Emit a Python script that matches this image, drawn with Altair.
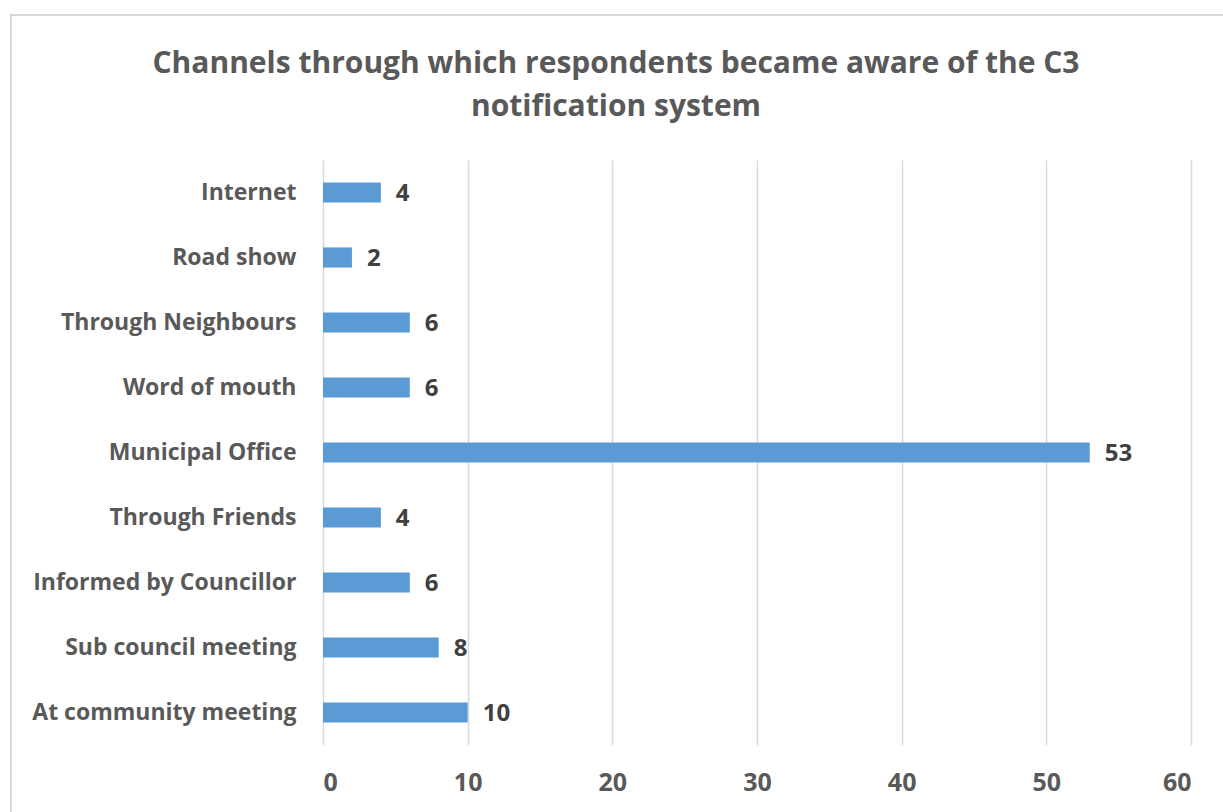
import altair as alt
import pandas as pd

# Survey responses: how respondents heard about the C3 notification system
channels = [
    "Internet",
    "Road show",
    "Through Neighbours",
    "Word of mouth",
    "Municipal Office",
    "Through Friends",
    "Informed by Councillor",
    "Sub council meeting",
    "At community meeting",
]
counts = [4, 2, 6, 6, 53, 4, 6, 8, 10]
x_ticks = [0, 10, 20, 30, 40, 50, 60]
title_lines = [
    "Channels through which respondents became aware of the C3",
    "notification system",
]

df = pd.DataFrame({"channel": channels, "count": counts})

FONT = "Open Sans"
BAR = "#5B9BD5"
LABEL = "#595959"
VALUE = "#404040"
GRID = "#D9D9D9"

W, H = 868, 585

y_enc = alt.Y(
    "channel:N",
    sort=channels,
    title=None,
    scale=alt.Scale(paddingInner=0.69, paddingOuter=0.345),
    axis=alt.Axis(
        domain=False,
        ticks=False,
        labelPadding=27,
        labelFont=FONT,
        labelFontWeight="bold",
        labelFontSize=23,
        labelColor=LABEL,
        labelLimit=400,
    ),
)

x_enc = alt.X(
    "count:Q",
    title=None,
    scale=alt.Scale(domain=[0, 60], nice=False),
    axis=alt.Axis(
        values=x_ticks,
        domain=False,
        ticks=False,
        grid=True,
        gridColor=GRID,
        gridWidth=1.5,
        labelPadding=25,
        labelFont=FONT,
        labelFontWeight="bold",
        labelFontSize=25,
        labelColor=LABEL,
    ),
)

bars = alt.Chart(df).mark_bar(color=BAR).encode(x=x_enc, y=y_enc)

values = alt.Chart(df).mark_text(
    align="left",
    baseline="middle",
    dx=15,
    dy=1,
    font=FONT,
    fontWeight="bold",
    fontSize=24,
    color=VALUE,
).encode(x="count:Q", y=alt.Y("channel:N", sort=channels), text="count:Q")

# Light border around the whole chart area
frame = alt.Chart(df).mark_rect(
    fill=None, stroke=GRID, strokeWidth=2, clip=False
).encode(
    x=alt.value(-312),
    x2=alt.value(920),
    y=alt.value(-145),
    y2=alt.value(680),
)

# Two-line chart heading, centred over the bordered area
heading = alt.Chart(df.head(1)).mark_text(
    align="center",
    baseline="alphabetic",
    font=FONT,
    fontSize=30,
    fontWeight="bold",
    color=LABEL,
    lineHeight=43,
).encode(
    x=alt.value(293),
    y=alt.value(-87),
    text=alt.value(title_lines),
)

chart = (
    alt.layer(frame, bars, values, heading)
    .properties(
        width=W,
        height=H,
        padding={"left": 323, "top": 160, "right": 32, "bottom": 67},
        autosize=alt.AutoSizeParams(type="none"),
        background="white",
    )
    .configure_view(stroke=None)
)

chart.save("out.html", embed_options={"renderer": "svg", "actions": False})
